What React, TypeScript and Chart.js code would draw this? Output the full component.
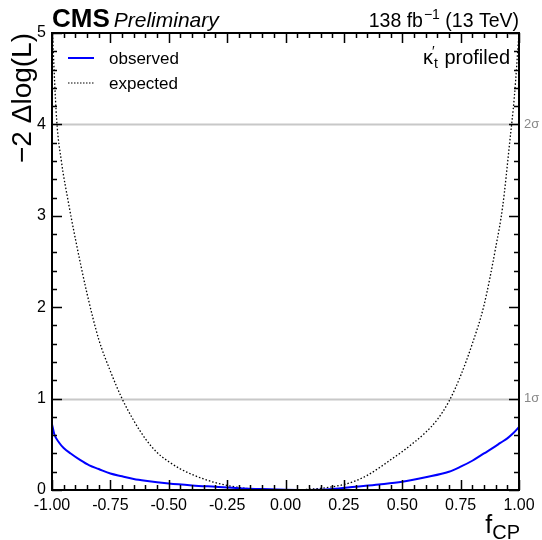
import React, { useEffect, useRef } from "react";
import { Chart, registerables } from "chart.js";

Chart.register(...registerables);

const expX = [-1.0, -0.98, -0.96, -0.93, -0.9, -0.85, -0.8, -0.75, -0.7, -0.65, -0.6, -0.55, -0.5, -0.45, -0.4, -0.35, -0.3, -0.25, -0.2, -0.15, -0.1, -0.05, 0.0, 0.05, 0.1, 0.15, 0.2, 0.25, 0.3, 0.35, 0.4, 0.45, 0.5, 0.55, 0.6, 0.65, 0.7, 0.75, 0.8, 0.85, 0.9, 0.93, 0.96, 0.98, 1.0];
const expY = [5.1, 4.05, 3.6, 3.15, 2.75, 2.15, 1.65, 1.3, 1.0, 0.76, 0.56, 0.41, 0.31, 0.23, 0.17, 0.12, 0.08, 0.05, 0.028, 0.012, 0.004, 0.0, 0.0, 0.002, 0.008, 0.018, 0.035, 0.06, 0.1, 0.16, 0.24, 0.33, 0.42, 0.52, 0.63, 0.77, 0.97, 1.25, 1.6, 2.02, 2.65, 3.1, 3.8, 4.3, 5.0];

const obsX = [-1.0, -0.99, -0.97, -0.95, -0.92, -0.88, -0.84, -0.8, -0.75, -0.7, -0.65, -0.6, -0.5, -0.4, -0.3, -0.2, -0.1, 0.0, 0.1, 0.2, 0.3, 0.4, 0.5, 0.6, 0.7, 0.75, 0.8, 0.85, 0.9, 0.92, 0.95, 0.975, 0.99, 1.0];
const obsY = [0.72, 0.61, 0.52, 0.46, 0.4, 0.33, 0.27, 0.23, 0.18, 0.15, 0.12, 0.1, 0.07, 0.05, 0.035, 0.02, 0.01, 0.003, 0.0, 0.01, 0.035, 0.06, 0.09, 0.14, 0.2, 0.255, 0.32, 0.4, 0.48, 0.515, 0.565, 0.62, 0.66, 0.69];

const xTickStep = 0.25;
const yTickStep = 1;
const sigmaLevels = [1, 4];
const sigmaLabels = ["1σ", "2σ"];

const FONT = "'Liberation Sans', Arial, Helvetica, sans-serif";

const decorPlugin = {
  id: "decor",
  beforeDatasetsDraw(chart: any) {
    const { ctx, chartArea: a, scales } = chart;
    const ys = scales.y;
    ctx.save();
    ctx.strokeStyle = "#c8c8c8";
    ctx.lineWidth = 2;
    sigmaLevels.forEach((lv) => {
      const py = Math.round(ys.getPixelForValue(lv)) + 0.5;
      ctx.beginPath();
      ctx.moveTo(a.left, py);
      ctx.lineTo(a.right, py);
      ctx.stroke();
    });
    ctx.restore();
  },
  afterDraw(chart: any) {
    const { ctx, chartArea: a, scales } = chart;
    const xs = scales.x;
    const ys = scales.y;
    ctx.save();
    // frame
    ctx.strokeStyle = "#000";
    ctx.lineWidth = 2;
    ctx.strokeRect(a.left, a.top, a.right - a.left, a.bottom - a.top);
    // x ticks
    ctx.lineWidth = 1.5;
    for (let i = 0; i <= 40; i++) {
      const v = -1 + i * 0.05;
      const px = Math.round(xs.getPixelForValue(v)) + 0.5;
      const len = i % 5 === 0 ? 10 : 5;
      ctx.beginPath();
      ctx.moveTo(px, a.bottom);
      ctx.lineTo(px, a.bottom - len);
      ctx.moveTo(px, a.top);
      ctx.lineTo(px, a.top + len);
      ctx.stroke();
    }
    for (let i = 0; i <= 25; i++) {
      const v = i * 0.2;
      const py = Math.round(ys.getPixelForValue(v)) + 0.5;
      const len = i % 5 === 0 ? 10 : 5;
      ctx.beginPath();
      ctx.moveTo(a.left, py);
      ctx.lineTo(a.left + len, py);
      ctx.moveTo(a.right, py);
      ctx.lineTo(a.right - len, py);
      ctx.stroke();
    }
    // sigma labels
    ctx.fillStyle = "#888";
    ctx.font = `13px ${FONT}`;
    ctx.textAlign = "left";
    ctx.textBaseline = "middle";
    sigmaLevels.forEach((lv, i) => {
      ctx.fillText(sigmaLabels[i], a.right + 5, ys.getPixelForValue(lv));
    });

    ctx.fillStyle = "#000";
    ctx.textBaseline = "alphabetic";
    // CMS Preliminary
    ctx.font = `bold 26px ${FONT}`;
    ctx.fillText("CMS", a.left, 27);
    const cw = ctx.measureText("CMS").width;
    ctx.font = `italic 21px ${FONT}`;
    ctx.fillText("Preliminary", a.left + cw + 4, 27);

    // lumi
    const p1 = "138 fb";
    const p2 = "−1";
    const p3 = " (13 TeV)";
    ctx.font = `19.5px ${FONT}`;
    const w1 = ctx.measureText(p1).width;
    const w3 = ctx.measureText(p3).width;
    ctx.font = `14px ${FONT}`;
    const w2 = ctx.measureText(p2).width;
    const sx = a.right - (w1 + w2 + w3 + 1);
    ctx.font = `19.5px ${FONT}`;
    ctx.fillText(p1, sx, 27);
    ctx.font = `14px ${FONT}`;
    ctx.fillText(p2, sx + w1 + 1, 19);
    ctx.font = `19.5px ${FONT}`;
    ctx.fillText(p3, sx + w1 + w2 + 1, 27);

    // kappa profiled
    ctx.font = `20px ${FONT}`;
    const kw = ctx.measureText("κ").width;
    const pw = ctx.measureText(" profiled").width;
    ctx.font = `14px ${FONT}`;
    const tw = ctx.measureText("t").width;
    const kx = a.right - 9 - (kw + tw + 2 + pw);
    ctx.font = `20px ${FONT}`;
    ctx.fillText("κ", kx, 64);
    ctx.font = `14px ${FONT}`;
    ctx.fillText("′", kx + kw - 1, 56);
    ctx.fillText("t", kx + kw + 1, 68);
    ctx.font = `20px ${FONT}`;
    ctx.fillText(" profiled", kx + kw + tw + 2, 64);

    // legend
    ctx.strokeStyle = "#0000ff";
    ctx.lineWidth = 2;
    ctx.beginPath();
    ctx.moveTo(68, 58);
    ctx.lineTo(94, 58);
    ctx.stroke();
    ctx.strokeStyle = "#000";
    ctx.lineWidth = 1.2;
    ctx.setLineDash([1.5, 1.5]);
    ctx.beginPath();
    ctx.moveTo(68, 83);
    ctx.lineTo(94, 83);
    ctx.stroke();
    ctx.setLineDash([]);
    ctx.font = `17px ${FONT}`;
    ctx.fillText("observed", 109, 64);
    ctx.fillText("expected", 109, 89);

    // x title
    ctx.font = `25px ${FONT}`;
    const fw = ctx.measureText("f").width;
    ctx.font = `20px ${FONT}`;
    const cpw = ctx.measureText("CP").width;
    const fx = 520 - fw - cpw;
    ctx.font = `25px ${FONT}`;
    ctx.fillText("f", fx, 533);
    ctx.font = `20px ${FONT}`;
    ctx.fillText("CP", fx + fw, 539);

    // y title
    ctx.save();
    ctx.translate(31, a.top);
    ctx.rotate(-Math.PI / 2);
    ctx.font = `28px ${FONT}`;
    ctx.textAlign = "right";
    ctx.fillText("−2 Δlog(L)", 0, 0);
    ctx.restore();

    ctx.restore();
  },
};

export default function App() {
  const ref = useRef<HTMLCanvasElement>(null);
  useEffect(() => {
    if (!ref.current) return;
    const chart = new Chart(ref.current, {
      type: "line",
      data: {
        datasets: [
          {
            label: "observed",
            data: obsX.map((x, i) => ({ x, y: obsY[i] })),
            borderColor: "#0000ff",
            borderWidth: 2,
            pointRadius: 0,
            cubicInterpolationMode: "monotone",
            clip: 0,
          } as any,
          {
            label: "expected",
            data: expX.map((x, i) => ({ x, y: expY[i] })),
            borderColor: "#000",
            borderWidth: 1.3,
            borderDash: [1.5, 2],
            pointRadius: 0,
            cubicInterpolationMode: "monotone",
            clip: 0,
          } as any,
        ],
      },
      options: {
        responsive: false,
        animation: false,
        layout: { padding: { left: 0, right: 23, top: 33, bottom: 0 } },
        plugins: { legend: { display: false }, tooltip: { enabled: false } },
        scales: {
          x: {
            type: "linear",
            min: -1,
            max: 1,
            grid: { display: false, drawTicks: false },
            border: { display: false },
            ticks: {
              stepSize: xTickStep,
              padding: 6,
              color: "#000",
              font: { family: FONT, size: 16 },
              maxRotation: 0,
              autoSkip: false,
              callback: (v: any) => Number(v).toFixed(2),
            },
            afterFit: (s: any) => {
              s.height = 50;
            },
          },
          y: {
            type: "linear",
            min: 0,
            max: 5,
            grid: { display: false, drawTicks: false },
            border: { display: false },
            ticks: {
              stepSize: yTickStep,
              padding: 6,
              color: "#000",
              font: { family: FONT, size: 16 },
              callback: (v: any) => String(v),
            },
            afterFit: (s: any) => {
              s.width = 52;
            },
          },
        },
      },
      plugins: [decorPlugin],
    });
    return () => chart.destroy();
  }, []);
  return (
    <div style={{ position: "fixed", left: 0, top: 0, width: 542, height: 540, background: "#fff" }}>
      <canvas ref={ref} width={542} height={540} style={{ width: 542, height: 540 }} />
    </div>
  );
}
